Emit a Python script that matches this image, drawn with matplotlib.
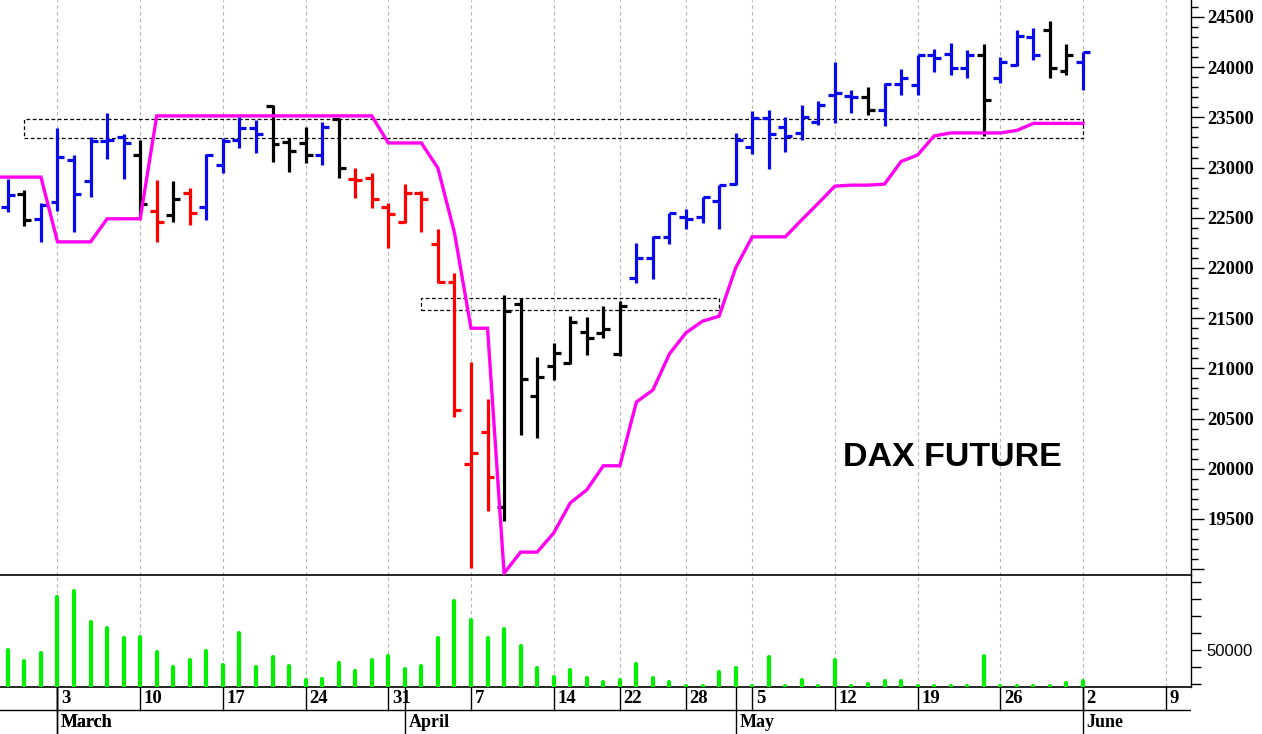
import matplotlib
matplotlib.use('Agg')
import matplotlib.pyplot as plt
from matplotlib.collections import LineCollection
from matplotlib.ticker import MultipleLocator, FixedLocator
import pandas as pd
import numpy as np

# ---------------- data ----------------
holidays = ['2025-04-18', '2025-04-21', '2025-05-01']
all_days = [d for d in pd.bdate_range('2025-02-26', '2025-06-09') if d.strftime('%Y-%m-%d') not in holidays]
n_bars = 66  # Feb 26 .. Jun 2

opens = [22610, 22740, 22485, 22660, 23075, 22865, 23265, 23305, 23125, 22570,
         22525, 22745, 22605, 23025, 23275, 23390, 23615, 23250, 23240, 23130,
         23485, 22885, 22895, 22610, 22460, 22745, 22240, 21865, 20050, 20365,
         19615, 21640, 20720, 21025, 21055, 21365, 21350, 21140, 21905, 22095,
         22310, 22510, 22510, 22670, 22835, 23200, 23490, 23405, 23340, 23455,
         23725, 23710, 23705, 23575, 23830, 23825, 24120, 24130, 23995, 24120,
         23895, 24025, 24305, 24370, 23960, 24050]
highs = [22885, 22775, 22645, 23390, 23125, 23300, 23545, 23335, 23275, 22875,
         22865, 22795, 23135, 23295, 23505, 23470, 23625, 23290, 23405, 23450,
         23490, 23000, 22945, 22645, 22835, 22770, 22385, 21945, 21065, 20695,
         21730, 21700, 21115, 21250, 21520, 21515, 21620, 21670, 22250, 22320,
         22545, 22585, 22710, 22825, 23340, 23565, 23575, 23505, 23625, 23665,
         24055, 23775, 23805, 23840, 23980, 24120, 24180, 24240, 24170, 24230,
         24105, 24370, 24395, 24455, 24230, 24150]
lows = [22560, 22420, 22260, 22570, 22360, 22710, 23085, 22885, 22490, 22260,
        22460, 22430, 22480, 22945, 23195, 23145, 23060, 22955, 23045, 23025,
        22900, 22695, 22595, 22195, 22445, 22360, 21850, 20520, 19010, 19575,
        19475, 20335, 20305, 20880, 21040, 21135, 21305, 21125, 21850, 21895,
        22240, 22385, 22450, 22385, 22825, 23140, 22985, 23160, 23275, 23425,
        23440, 23540, 23525, 23415, 23725, 23725, 23955, 23920, 23895, 23310,
        23840, 24010, 24070, 23890, 23920, 23775]
closes = [22725, 22480, 22630, 23110, 22735, 23260, 23275, 23245, 22635, 22455,
          22690, 22545, 23130, 23260, 23390, 23330, 23235, 23170, 23130, 23400,
          23000, 22880, 22685, 22540, 22745, 22685, 21865, 20585, 20160, 19915,
          21575, 20890, 20910, 21150, 21465, 21300, 21390, 21620, 22095, 22310,
          22545, 22485, 22705, 22825, 23275, 23490, 23335, 23310, 23505, 23625,
          23740, 23700, 23575, 23830, 23890, 24120, 24095, 23995, 24120, 23675,
          24055, 24315, 24120, 23995, 24120, 24150]
bar_colors = ['b', 'k', 'b', 'b', 'b', 'b', 'b', 'b', 'k', 'r',
              'k', 'r', 'b', 'b', 'b', 'b', 'k', 'k', 'k', 'b',
              'k', 'r', 'r', 'r', 'r', 'r', 'r', 'r', 'r', 'r',
              'k', 'k', 'k', 'k', 'k', 'k', 'k', 'k', 'b', 'b',
              'b', 'b', 'b', 'b', 'b', 'b', 'b', 'b', 'b', 'b',
              'b', 'b', 'k', 'b', 'b', 'b', 'b', 'b', 'b', 'k',
              'b', 'b', 'b', 'k', 'k', 'b']
volume = [50000, 43500, 48400, 81200, 84700, 66400, 62800, 56900, 57500, 48600,
          39900, 44100, 49400, 41000, 60200, 39900, 45700, 40700, 32300, 32700,
          42500, 37600, 44100, 46600, 38900, 40700, 56900, 79000, 67800, 56900,
          62300, 52500, 39200, 33900, 38200, 33300, 31200, 32300, 41500, 33300,
          31200, 28900, 28900, 37200, 39200, 28900, 45700, 28700, 32300, 28700,
          44100, 28700, 29700, 31700, 31700, 28700, 28900, 28700, 28700, 46600,
          28900, 28700, 28900, 28900, 30300, 31700]
# trailing stop line, starts one session earlier (Feb 25)
stop_line = [22905, 22905, 22905, 22905, 22260, 22260, 22260, 22490, 22490, 22490,
             23515, 23515, 23515, 23515, 23515, 23515, 23515, 23515, 23515, 23515,
             23515, 23515, 23515, 23515, 23245, 23245, 23245, 22995, 22350, 21400,
             21400, 18960, 19170, 19170, 19360, 19660, 19790, 20030, 20030, 20665,
             20785, 21145, 21355, 21470, 21520, 22000, 22310, 22310, 22310, 22480,
             22645, 22815, 22825, 22825, 22835, 23060, 23125, 23315, 23345, 23345,
             23345, 23345, 23370, 23440, 23440, 23440, 23440]
# dotted zones: (first bar, last bar, low, high)
zones = [(1, 65, 23292, 23481), (25, 43, 21585, 21700)]

price_ticks = [19500, 20000, 20500, 21000, 21500, 22000, 22500, 23000, 23500, 24000, 24500]
title_text = 'DAX FUTURE'

# ---------------- figure ----------------
W, H = 1262, 734
fig = plt.figure(figsize=(W / 100, H / 100), dpi=100)
right = 1191 / W
axv = fig.add_axes([0, (H - 687) / H, right, 112 / H])
axd = fig.add_axes([0, 0, right, 47 / H])
ax = fig.add_axes([0, (H - 575) / H, right, 575 / H])
for a in (ax, axv, axd):
    a.patch.set_visible(False)

xmin, xmax = -0.476, 71.53
blue, red, black = '#0A0AE8', '#FF0000', '#000000'
cmap = {'b': blue, 'r': red, 'k': black}
serif = ['Liberation Serif', 'DejaVu Serif']

x = np.arange(n_bars)
cols = [cmap[c] for c in bar_colors]
tick = 0.42
segs = []
for i in range(n_bars):
    segs.append([(x[i], lows[i]), (x[i], highs[i])])
    segs.append([(x[i] - tick, opens[i]), (x[i], opens[i])])
    segs.append([(x[i], closes[i]), (x[i] + tick, closes[i])])
seg_cols = [c for c in cols for _ in range(3)]
ax.add_collection(LineCollection(segs, colors=seg_cols, linewidths=2.3, zorder=4, capstyle='butt'))

ax.plot(np.arange(-1, n_bars), stop_line, color='#FF00F0', lw=2.4, zorder=5, solid_joinstyle='miter')

for (a, b, lo, hi) in zones:
    ax.add_patch(plt.Rectangle((a, lo), b - a, hi - lo, fill=False, ec='black',
                               lw=0.9, ls=(0, (3, 2)), zorder=3))

# weekly ticks / month starts
week_idx = [i for i in range(1, len(all_days)) if all_days[i].isocalendar()[1] != all_days[i - 1].isocalendar()[1]]
month_idx = [i for i in range(1, len(all_days)) if all_days[i].month != all_days[i - 1].month]

for a in (ax, axv):
    for i in week_idx:
        a.axvline(i, color='#B4B4B4', lw=0.8, ls=(0, (3, 3)), zorder=1)
    a.set_xlim(xmin, xmax)
    a.set_xticks([])
    for s in ('top', 'left'):
        a.spines[s].set_visible(False)
    a.spines['right'].set_linewidth(1.0)
    a.spines['bottom'].set_linewidth(1.2)
    a.spines['bottom'].set_color('black')

ax.set_ylim(18942, 24669)
ax.yaxis.tick_right()
ax.yaxis.set_major_locator(FixedLocator(price_ticks + [19000]))
ax.set_yticklabels([str(t) for t in price_ticks] + [''])
ax.yaxis.set_minor_locator(MultipleLocator(100))
ax.tick_params(axis='y', which='major', direction='out', length=9, width=1, pad=3)
ax.tick_params(axis='y', which='minor', direction='out', length=5, width=1)
for lab in ax.get_yticklabels():
    lab.set_fontfamily(serif)
    lab.set_fontweight('bold')
    lab.set_fontsize(13.5)

# volume
vfloor = 28100
vl = axv.vlines(x, vfloor, volume, color='#00F000', lw=3, zorder=3)
vl.set_capstyle('round')
axv.set_ylim(vfloor, 94380)
axv.yaxis.tick_right()
axv.yaxis.set_major_locator(FixedLocator([30000, 40000, 50000, 60000, 70000, 80000, 90000]))
axv.set_yticklabels(['', '', '50000', '', '', '', ''])
axv.tick_params(axis='y', direction='out', length=7, width=1, pad=4)
for lab in axv.get_yticklabels():
    lab.set_fontfamily(['Liberation Sans', 'DejaVu Sans'])
    lab.set_fontsize(12)

# date axis rows
axd.set_xlim(xmin, xmax)
axd.set_ylim(0, 47)
axd.axis('off')
axd.axhline(24, color='black', lw=1.0)
off = 0.22
for i in week_idx:
    axd.plot([i, i], [24, 47], color='black', lw=1.0)
    axd.text(i + off, 35.5, str(all_days[i].day), ha='left', va='center',
             fontfamily=serif, fontweight='bold', fontsize=13.5)
first_month = [3] + month_idx
for i in first_month:
    if i < n_bars:
        axd.plot([i, i], [0, 47], color='black', lw=1.0)
        axd.text(i + off, 11.5, all_days[i].strftime('%B'), ha='left', va='center',
                 fontfamily=serif, fontweight='bold', fontsize=13)

fig.text(843 / W, 1 - 458 / H, title_text, ha='left', va='center',
         fontfamily=['Liberation Sans', 'DejaVu Sans'], fontweight='bold', fontsize=24.5)

fig.savefig('out.png', dpi=100)
